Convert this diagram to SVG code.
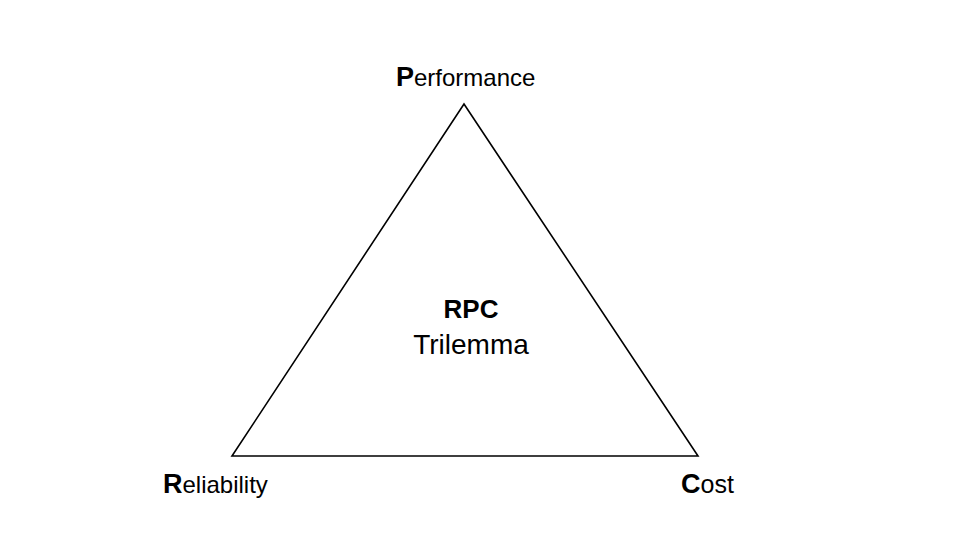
<svg xmlns="http://www.w3.org/2000/svg" width="960" height="540" viewBox="0 0 960 540">
  <style>
    .lbl { font-family: "Liberation Sans", Arial, sans-serif; font-size: 24px; fill: #000; }
    .ini { font-weight: bold; font-size: 27px; }
    .ctr { font-family: "Liberation Sans", Arial, sans-serif; fill: #000; text-anchor: middle; }
  </style>
  <rect width="960" height="540" fill="#fff"/>
  <g id="connectors">
    <polygon points="464,104 698,456 232,456" fill="none" stroke="#000" stroke-width="1.6" stroke-linejoin="miter"/>
  </g>
  <g id="performance">
    <text class="lbl" x="396" y="86"><tspan class="ini">P</tspan>erformance</text>
  </g>
  <g id="reliability">
    <text class="lbl" x="163" y="493"><tspan class="ini">R</tspan>eliability</text>
  </g>
  <g id="cost">
    <text class="lbl" x="681" y="493"><tspan class="ini">C</tspan><tspan font-size="25">ost</tspan></text>
  </g>
  <g id="center">
    <text class="ctr" x="471" y="318" font-size="26" font-weight="bold">RPC</text>
    <text class="ctr" x="471" y="354" font-size="28">Trilemma</text>
  </g>
</svg>
